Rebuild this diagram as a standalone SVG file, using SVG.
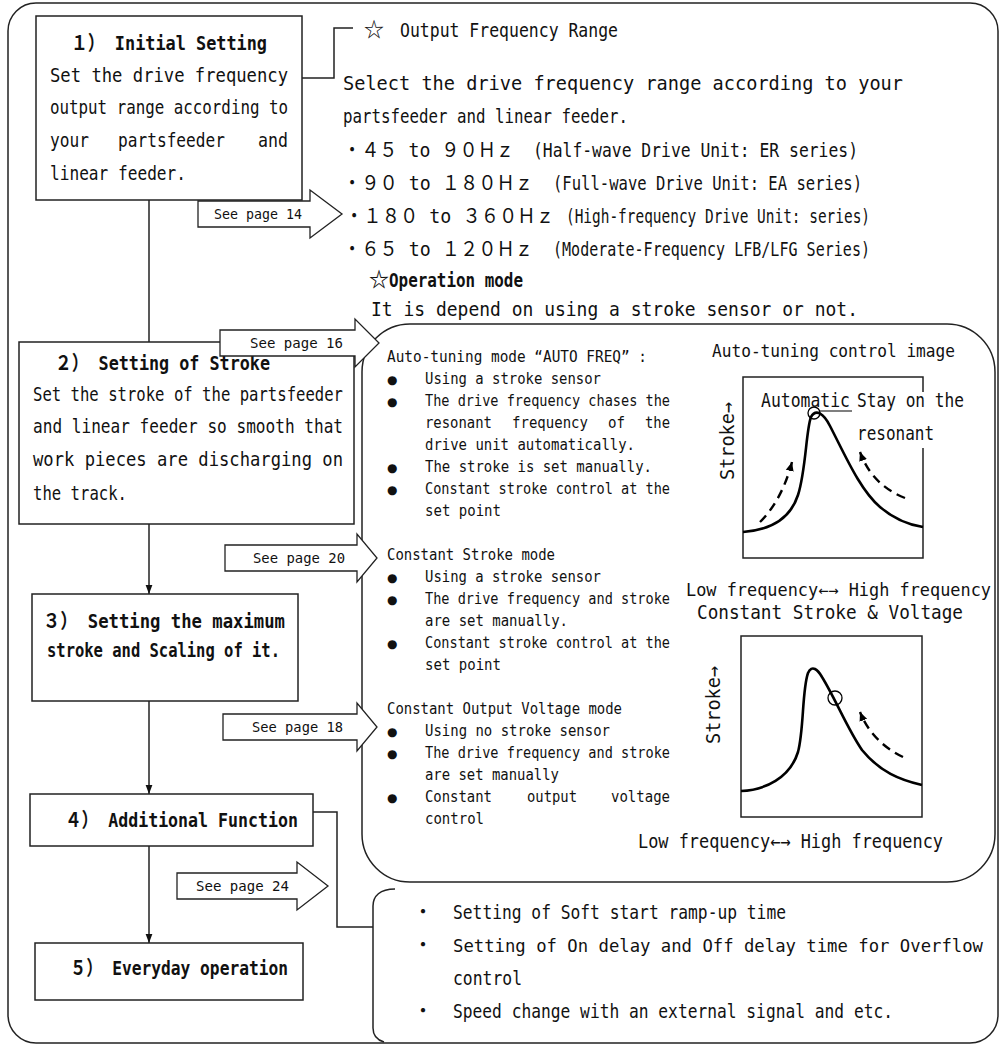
<svg xmlns="http://www.w3.org/2000/svg" width="1000" height="1046" viewBox="0 0 1000 1046">
<style>
.t{font-family:"DejaVu Sans Mono","Noto Sans CJK JP",monospace;font-size:20px;fill:#111}
.j{font-family:"Noto Sans CJK JP",sans-serif}
.b{font-weight:bold}
.s{font-size:15px}
.p{font-size:14px}
.m{font-size:17px}
.bu{font-family:"DejaVu Sans",sans-serif;font-size:12px}
.box{fill:#fff;stroke:#222;stroke-width:1.5}
.ln{fill:none;stroke:#222;stroke-width:1.5}
.crv{fill:none;stroke:#000;stroke-width:2.6}
.dash{fill:none;stroke:#000;stroke-width:2.4;stroke-dasharray:9 6}
.blk{fill:#fff;stroke:#222;stroke-width:1.3}
</style>
<defs>
<marker id="ah" markerWidth="9" markerHeight="12" refX="12" refY="4.5" orient="auto" markerUnits="userSpaceOnUse" viewBox="0 0 12 9"><path d="M0,0 L12,4.5 L0,9 Z" fill="#111"/></marker>
<marker id="dh" markerWidth="9" markerHeight="9" refX="9" refY="4" orient="auto" markerUnits="userSpaceOnUse" viewBox="0 0 9 8"><path d="M0,0 L9,4 L0,8 Z" fill="#000"/></marker>
</defs>
<rect width="1000" height="1046" fill="#fff"/>
<rect id="frame" x="8" y="3" width="990" height="1040" rx="28" class="ln"/>

<g id="panel-modes">
<rect x="362" y="324" width="633" height="558" rx="48" class="ln"/>
</g>
<g id="panel-functions">
<path d="M395,889 C380,889 373,896 373,906 V1028 C373,1036 377,1040 384,1042" class="ln"/>
</g>

<g id="connectors">
<path d="M302,78 H334 V28 H353" class="ln"/>
<path d="M149,200 V342" class="ln"/>
<path d="M149,524 V594" class="ln" marker-end="url(#ah)"/>
<path d="M149,701 V794" class="ln" marker-end="url(#ah)"/>
<path d="M149,846 V943" class="ln" marker-end="url(#ah)"/>
<path d="M313,812 H337 V927 H373" class="ln"/>
</g>

<g id="node1">
<rect x="36" y="16" width="266" height="184" class="box"/>
<text class="t b" x="71" y="50" textLength="196" lengthAdjust="spacingAndGlyphs">１） Initial Setting</text>
<text class="t" x="50" y="82" textLength="238" lengthAdjust="spacingAndGlyphs">Set the drive frequency</text>
<text class="t" x="50" y="114" textLength="238" lengthAdjust="spacingAndGlyphs">output range according to</text>
<text class="t" y="147"><tspan x="50" textLength="39" lengthAdjust="spacingAndGlyphs">your</tspan><tspan x="118" textLength="107" lengthAdjust="spacingAndGlyphs">partsfeeder</tspan><tspan x="258" textLength="30" lengthAdjust="spacingAndGlyphs">and</tspan></text>
<text class="t" x="50" y="180" textLength="136" lengthAdjust="spacingAndGlyphs">linear feeder.</text>
</g>

<g id="node2">
<rect x="19" y="342" width="335" height="182" class="box"/>
<text class="t b" x="55" y="370" textLength="215" lengthAdjust="spacingAndGlyphs">２） Setting of Stroke</text>
<text class="t" x="33" y="401" textLength="310" lengthAdjust="spacingAndGlyphs">Set the stroke of the partsfeeder</text>
<text class="t" x="33" y="433" textLength="310" lengthAdjust="spacingAndGlyphs">and linear feeder so smooth that</text>
<text class="t" x="33" y="466" textLength="310" lengthAdjust="spacingAndGlyphs">work pieces are discharging on</text>
<text class="t" x="33" y="500" textLength="94" lengthAdjust="spacingAndGlyphs">the track.</text>
</g>

<g id="node3">
<rect x="32" y="594" width="266" height="107" class="box"/>
<text class="t b" x="43" y="628" textLength="242" lengthAdjust="spacingAndGlyphs">３） Setting the maximum</text>
<text class="t b" x="47" y="657" textLength="233" lengthAdjust="spacingAndGlyphs">stroke and Scaling of it.</text>
</g>

<g id="node4">
<rect x="30" y="794" width="283" height="52" class="box"/>
<text class="t b" x="65" y="827" textLength="233" lengthAdjust="spacingAndGlyphs">４） Additional Function</text>
</g>

<g id="node5">
<rect x="35" y="943" width="268" height="57" class="box"/>
<text class="t b" x="70" y="975" textLength="218" lengthAdjust="spacingAndGlyphs">５） Everyday operation</text>
</g>

<g id="freq-range">
<text class="t" y="37"><tspan class="j" x="364">☆</tspan><tspan x="400" textLength="218" lengthAdjust="spacingAndGlyphs">Output Frequency Range</tspan></text>
<text class="t" x="343" y="90" textLength="560" lengthAdjust="spacingAndGlyphs">Select the drive frequency range according to your</text>
<text class="t" x="343" y="123" textLength="285" lengthAdjust="spacingAndGlyphs">partsfeeder and linear feeder.</text>
<text class="t" y="157"><tspan x="343" textLength="171" lengthAdjust="spacingAndGlyphs">・４５ to ９０Ｈｚ</tspan><tspan x="533" textLength="325" lengthAdjust="spacingAndGlyphs">(Half-wave Drive Unit: ER series)</tspan></text>
<text class="t" y="190"><tspan x="343" textLength="190" lengthAdjust="spacingAndGlyphs">・９０ to １８０Ｈｚ</tspan><tspan x="553" textLength="309" lengthAdjust="spacingAndGlyphs">(Full-wave Drive Unit: EA series)</tspan></text>
<text class="t" y="223"><tspan x="345" textLength="209" lengthAdjust="spacingAndGlyphs">・１８０ to ３６０Ｈｚ</tspan><tspan x="566" textLength="304" lengthAdjust="spacingAndGlyphs">(High-frequency Drive Unit: series)</tspan></text>
<text class="t" y="256"><tspan x="343" textLength="190" lengthAdjust="spacingAndGlyphs">・６５ to １２０Ｈｚ</tspan><tspan x="553" textLength="317" lengthAdjust="spacingAndGlyphs">(Moderate-Frequency LFB/LFG Series)</tspan></text>
<text class="t b" y="287"><tspan class="j" x="369">☆</tspan><tspan x="389" textLength="134" lengthAdjust="spacingAndGlyphs">Operation mode</tspan></text>
<text class="t" x="371" y="316" textLength="487" lengthAdjust="spacingAndGlyphs">It is depend on using a stroke sensor or not.</text>
</g>

<g id="mode-list">
<text class="t s" x="387" y="362" textLength="260" lengthAdjust="spacingAndGlyphs">Auto-tuning mode “AUTO FREQ” :</text>
<text class="t s" y="384"><tspan class="bu" x="387">●</tspan><tspan x="425" textLength="176" lengthAdjust="spacingAndGlyphs">Using a stroke sensor</tspan></text>
<text class="t s" y="406"><tspan class="bu" x="387">●</tspan><tspan x="425" textLength="245" lengthAdjust="spacingAndGlyphs">The drive frequency chases the</tspan></text>
<text class="t s" y="428"><tspan x="425" textLength="67" lengthAdjust="spacingAndGlyphs">resonant</tspan><tspan x="512" textLength="76" lengthAdjust="spacingAndGlyphs">frequency</tspan><tspan x="608" textLength="17" lengthAdjust="spacingAndGlyphs">of</tspan><tspan x="645" textLength="25" lengthAdjust="spacingAndGlyphs">the</tspan></text>
<text class="t s" x="425" y="450" textLength="210" lengthAdjust="spacingAndGlyphs">drive unit automatically.</text>
<text class="t s" y="472"><tspan class="bu" x="387">●</tspan><tspan x="425" textLength="227" lengthAdjust="spacingAndGlyphs">The stroke is set manually.</tspan></text>
<text class="t s" y="494"><tspan class="bu" x="387">●</tspan><tspan x="425" textLength="245" lengthAdjust="spacingAndGlyphs">Constant stroke control at the</tspan></text>
<text class="t s" x="425" y="516" textLength="76" lengthAdjust="spacingAndGlyphs">set point</text>

<text class="t s" x="387" y="560" textLength="168" lengthAdjust="spacingAndGlyphs">Constant Stroke mode</text>
<text class="t s" y="582"><tspan class="bu" x="387">●</tspan><tspan x="425" textLength="176" lengthAdjust="spacingAndGlyphs">Using a stroke sensor</tspan></text>
<text class="t s" y="604"><tspan class="bu" x="387">●</tspan><tspan x="425" textLength="245" lengthAdjust="spacingAndGlyphs">The drive frequency and stroke</tspan></text>
<text class="t s" x="425" y="626" textLength="143" lengthAdjust="spacingAndGlyphs">are set manually.</text>
<text class="t s" y="648"><tspan class="bu" x="387">●</tspan><tspan x="425" textLength="245" lengthAdjust="spacingAndGlyphs">Constant stroke control at the</tspan></text>
<text class="t s" x="425" y="670" textLength="76" lengthAdjust="spacingAndGlyphs">set point</text>

<text class="t s" x="387" y="714" textLength="235" lengthAdjust="spacingAndGlyphs">Constant Output Voltage mode</text>
<text class="t s" y="736"><tspan class="bu" x="387">●</tspan><tspan x="425" textLength="185" lengthAdjust="spacingAndGlyphs">Using no stroke sensor</tspan></text>
<text class="t s" y="758"><tspan class="bu" x="387">●</tspan><tspan x="425" textLength="245" lengthAdjust="spacingAndGlyphs">The drive frequency and stroke</tspan></text>
<text class="t s" x="425" y="780" textLength="134" lengthAdjust="spacingAndGlyphs">are set manually</text>
<text class="t s" y="802"><tspan class="bu" x="387">●</tspan><tspan x="425" textLength="67" lengthAdjust="spacingAndGlyphs">Constant</tspan><tspan x="527" textLength="50" lengthAdjust="spacingAndGlyphs">output</tspan><tspan x="611" textLength="59" lengthAdjust="spacingAndGlyphs">voltage</tspan></text>
<text class="t s" x="425" y="824" textLength="59" lengthAdjust="spacingAndGlyphs">control</text>
</g>

<g id="graph-auto">
<text class="t" x="712" y="357" font-size="18" textLength="243" lengthAdjust="spacingAndGlyphs" style="font-size:18.5px">Auto-tuning control image</text>
<path d="M923,392 V377 H743 V558 H923 V448" class="ln"/>
<path d="M743,532 C770,530 790,520 798,495 C806,470 806,430 811,417 C816,408 824,414 830,426 C845,455 860,490 880,507 C895,520 910,525 923,527" class="crv"/>
<path d="M760,522 Q782,500 792,462" class="dash" marker-end="url(#dh)"/>
<path d="M905,498 Q872,485 860,452" class="dash" marker-end="url(#dh)"/>
<circle cx="814" cy="413" r="6" fill="none" stroke="#000" stroke-width="1.3"/>
<line x1="819" y1="411" x2="852" y2="411" stroke="#000" stroke-width="1.2"/>
<text class="t" x="761" y="407" textLength="89" lengthAdjust="spacingAndGlyphs">Automatic</text>
<text class="t" x="857" y="407" textLength="107" lengthAdjust="spacingAndGlyphs">Stay on the</text>
<text class="t" x="857" y="440" textLength="77" lengthAdjust="spacingAndGlyphs">resonant</text>
<text class="t" transform="translate(734,441) rotate(-90)" text-anchor="middle" textLength="78" lengthAdjust="spacingAndGlyphs">Stroke→</text>
<text class="t m" x="686" y="596" textLength="305" lengthAdjust="spacingAndGlyphs">Low frequency←→ High frequency</text>
</g>

<g id="graph-constant">
<text class="t" x="697" y="619" textLength="266" lengthAdjust="spacingAndGlyphs">Constant  Stroke  &amp;  Voltage</text>
<rect x="741" y="636" width="181" height="181" class="ln"/>
<path d="M741,791 C765,790 790,778 798,752 C804,730 802,690 808,673 C812,664 818,670 822,677 C835,698 848,730 862,750 C880,772 900,780 922,785" class="crv"/>
<path d="M903,757 Q872,742 860,712" class="dash" marker-end="url(#dh)"/>
<circle cx="835" cy="698" r="7" fill="none" stroke="#000" stroke-width="1.3"/>
<text class="t" transform="translate(720,705) rotate(-90)" text-anchor="middle" textLength="78" lengthAdjust="spacingAndGlyphs">Stroke→</text>
<text class="t" x="638" y="848" textLength="305" lengthAdjust="spacingAndGlyphs">Low frequency←→ High frequency</text>
</g>

<g id="functions">
<text class="t" y="919"><tspan x="413">・</tspan><tspan x="453" textLength="333" lengthAdjust="spacingAndGlyphs">Setting of Soft start ramp-up time</tspan></text>
<text class="t" y="952"><tspan x="413">・</tspan><tspan class="m" x="453" textLength="530" lengthAdjust="spacingAndGlyphs">Setting of On delay and Off delay time for Overflow</tspan></text>
<text class="t" x="453" y="985" textLength="69" lengthAdjust="spacingAndGlyphs">control</text>
<text class="t" y="1018"><tspan x="413">・</tspan><tspan x="453" textLength="440" lengthAdjust="spacingAndGlyphs">Speed change with an external signal and etc.</tspan></text>
</g>

<g id="page-refs">
<path d="M198,201 H310 V190 L342,214 L310,238 V227 H198 Z" class="blk"/>
<text class="t p" x="214" y="219" textLength="88" lengthAdjust="spacingAndGlyphs">See page 14</text>
<path d="M220,330 H355 V319 L379,343 L355,367 V356 H220 Z" class="blk"/>
<text class="t p" x="250" y="348" textLength="93" lengthAdjust="spacingAndGlyphs">See page 16</text>
<path d="M225,545 H357 V534 L377,558 L357,582 V571 H225 Z" class="blk"/>
<text class="t p" x="253" y="563" textLength="92" lengthAdjust="spacingAndGlyphs">See page 20</text>
<path d="M223,714 H357 V703 L377,727 L357,751 V740 H223 Z" class="blk"/>
<text class="t p" x="252" y="732" textLength="91" lengthAdjust="spacingAndGlyphs">See page 18</text>
<path d="M177,873 H297 V862 L328,886 L297,910 V899 H177 Z" class="blk"/>
<text class="t p" x="196" y="891" textLength="93" lengthAdjust="spacingAndGlyphs">See page 24</text>
</g>
</svg>
